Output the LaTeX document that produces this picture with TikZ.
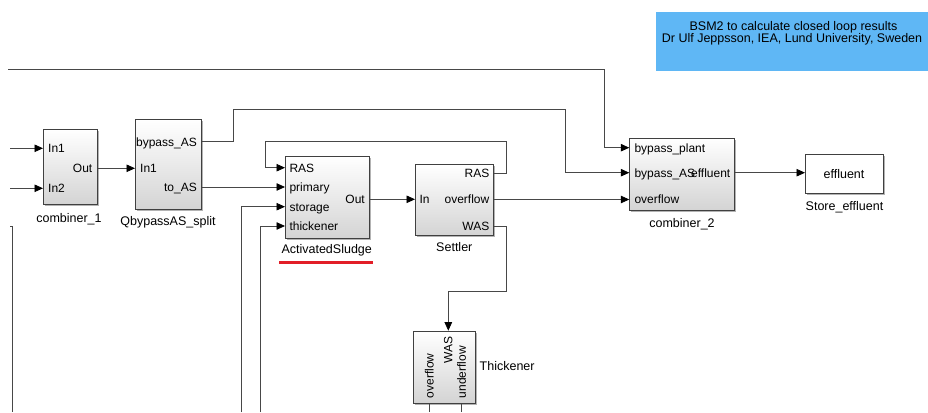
\documentclass[tikz,border=0pt]{standalone}
\usepackage{fontspec}
\setmainfont{Liberation Sans}
\usetikzlibrary{arrows.meta,shadows}
\definecolor{notefill}{HTML}{5FB7F5}
\definecolor{markred}{RGB}{226,30,40}

\begin{document}
\begin{tikzpicture}[x=1pt,y=-1pt,
  wire/.style={draw=black!72, line width=0.8pt},
  feed/.style={wire, -{Triangle[length=8.5pt,width=7.5pt,black]}},
  block/.style={draw=black!75, line width=0.9pt, top color=white, bottom color=black!17,
    drop shadow={shadow xshift=1.6pt, shadow yshift=-1.6pt, fill=black!50, opacity=0.6},
    inner sep=0pt, anchor=north west},
  plainblock/.style={block, top color=white, bottom color=white},
  port/.style={inner sep=0pt, font=\fontsize{12}{14}\selectfont, text height=8.6pt, text depth=0pt},
  portl/.style={port, anchor=west},
  portr/.style={port, anchor=east},
  caption/.style={inner sep=0pt, anchor=base, font=\fontsize{12.5}{15}\selectfont},
]
\useasboundingbox (0,0) rectangle (928,412);

% note box
\node[fill=notefill, inner sep=0pt, anchor=north west, minimum width=272, minimum height=59] (note) at (656,12) {};
\node[caption] (note1) at (793.5,30.7) {BSM2 to calculate closed loop results};
\node[caption] (note2) at (792,42.4) {Dr Ulf Jeppsson, IEA, Lund University, Sweden};

% blocks
\node[block, minimum width=54, minimum height=75] (c1) at (43,129) {};
\node[block, minimum width=66, minimum height=90] (split) at (135,119.3) {};
\node[block, minimum width=84, minimum height=82] (as) at (285,156) {};
\node[block, minimum width=78, minimum height=71] (set) at (415,164.3) {};
\node[block, minimum width=105, minimum height=72] (c2) at (629.3,137.7) {};
\node[plainblock, minimum width=78, minimum height=39] (eff) at (805,154.3) {};
\node[block, minimum width=62, minimum height=72] (thk) at (413.3,330.7) {};

% port labels
\node[portl] (c1in1) at (48,148.3) {In1};
\node[portl] (c1in2) at (48,188.3) {In2};
\node[portr] (c1out) at (92.5,168.3) {Out};
\node[portr] (spbyp) at (197,141.7) {bypass\_AS};
\node[portl] (spin) at (140,168.3) {In1};
\node[portr] (spto) at (197,186.7) {to\_AS};
\node[portl] (asras) at (289.3,167.7) {RAS};
\node[portl] (asprim) at (289.3,187.3) {primary};
\node[portl] (asstor) at (289.3,206.7) {storage};
\node[portl] (asthk) at (289.3,226) {thickener};
\node[portr] (asout) at (365,199.3) {Out};
\node[portl] (setin) at (419.3,199.3) {In};
\node[portr] (setras) at (489.5,173.3) {RAS};
\node[portr] (setov) at (489.5,199.5) {overflow};
\node[portr] (setwas) at (489.5,226.3) {WAS};
\node[portl] (c2bp) at (634.3,147.7) {bypass\_plant};
\node[portl] (c2ba) at (634.3,172.7) {bypass\_AS};
\node[portl] (c2ov) at (634.3,199.3) {overflow};
\node[portr] (c2eff) at (730.5,172.7) {effluent};
\node[caption] (efftext) at (844,178) {effluent};
\node[portl, rotate=90] (thov) at (429.3,398.3) {overflow};
\node[portl, rotate=90] (thund) at (461.5,398.3) {underflow};
\node[portr, rotate=90] (thwas) at (448,336.7) {WAS};

% captions
\node[caption] (c1cap) at (69,222) {combiner\_1};
\node[caption] (spcap) at (168,225.7) {QbypassAS\_split};
\node[caption] (ascap) at (326.7,253) {ActivatedSludge};
\node[caption] (setcap) at (454.3,251) {Settler};
\node[caption] (c2cap) at (682,227.5) {combiner\_2};
\node[caption] (effcap) at (844.5,210) {Store\_effluent};
\node[caption, anchor=base west] (thkcap) at (479.5,370) {Thickener};

% red marker under the activated sludge caption
\draw[markred, line width=2.6pt] (279.3,262.3) coordinate (ul1) -- (372.7,262.3) coordinate (ul2);

% free line ends at the picture border
\coordinate (inA) at (10,148.3);
\coordinate (inB) at (10,188.3);
\coordinate (inTop) at (8,69);
\coordinate (inLeft) at (10,226.5);
\coordinate (bLeft) at (12.7,412);
\coordinate (bStor) at (241.7,412);
\coordinate (bThk) at (260.7,412);
\coordinate (bOv) at (429.3,412);
\coordinate (bUnd) at (461,412);

% connectors
\draw[feed] (inA) -- (c1.west |- inA);
\draw[feed] (inB) -- (c1.west |- inB);
\draw[feed] (c1.east |- c1out) -- (split.west |- c1out);
\draw[feed] (split.east |- spbyp) -- (233,141.7) -- (233,109) -- (565.7,109) -- (565.7,172.7) -- (c2.west |- c2ba);
\draw[feed] (split.east |- 0,187) -- (as.west |- 0,187);
\draw[feed] (as.east |- asout) -- (set.west |- asout);
\draw[feed] (set.east |- setras) -- (506.7,173.3) -- (506.7,141.7) -- (265.7,141.7) -- (265.7,167.7) -- (as.west |- asras);
\draw[feed] (set.east |- setov) -- (c2.west |- setov);
\draw[feed] (set.east |- setwas) -- (506.7,226.3) -- (506.7,291.7) -- (448.3,291.7) -- (thk.north -| 448.3,0);
\draw[feed] (inTop) -- (604,69) -- (604,147.7) -- (c2.west |- c2bp);
\draw[feed] (c2.east |- c2eff) -- (eff.west |- c2eff);
\draw[wire] (inLeft) -- (12.7,226.5) -- (bLeft);
\draw[feed] (bStor) -- (241.7,206.7) -- (as.west |- asstor);
\draw[feed] (bThk) -- (260.7,226) -- (as.west |- asthk);
\draw[wire] (thk.south -| bOv) -- (bOv);
\draw[wire] (thk.south -| bUnd) -- (bUnd);
\end{tikzpicture}
\end{document}
